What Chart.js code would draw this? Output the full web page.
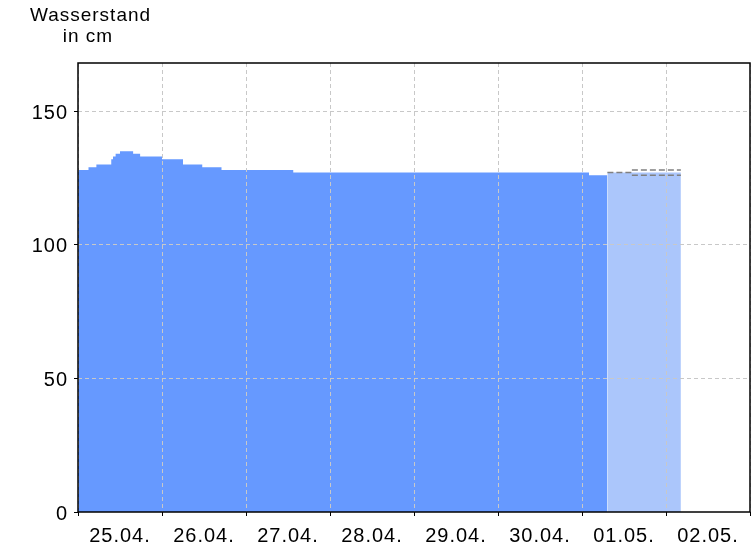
<!DOCTYPE html>
<html>
<head>
<meta charset="utf-8">
<script src="https://cdn.jsdelivr.net/npm/chart.js@4"></script>
<style>
	html, body { margin: 0; padding: 0; background: #fff; }
	#pegel-chart { display: block; }
</style>
</head>
<body>
<canvas id="pegel-chart" width="756" height="546"></canvas>
<script>
// Stunden seit 25.04. 00:00 und Wasserstand in cm (Messwerte, Stufenverlauf)
var messStunden = [0, 3, 5.25, 9.5, 10, 10.75, 12, 15.75, 17.75, 24, 30, 35.5, 41, 61.5, 146, 151.25];
var messWerte = [128, 129, 130, 132, 133, 134, 135, 134, 133, 132, 130, 129, 128, 127, 126, 126];

// Vorhersage
var vorhersageStunden = [151.25, 172.25];
var vorhersageWerte = [127, 127];
var mitteStunden = [151.25, 158.25];
var mitteWerte = [127, 127];
var grenzeStunden = [158.25, 172.25];
var grenzeOben = [128, 128];
var grenzeUnten = [126, 126];

// Achsen
var tagGrenzen = [0, 24, 48, 72, 96, 120, 144, 168, 192];
var tage = ["25.04.", "26.04.", "27.04.", "28.04.", "29.04.", "30.04.", "01.05.", "02.05."];
var yTicks = [0, 50, 100, 150];
var yMax = 168;

var COLOR_MESS = "#6699ff";
var COLOR_VORHERSAGE = "#abc6fb";
var COLOR_GRENZE = "#808080";
var COLOR_GRID = "#c8c8c8";
var FONT = '"Liberation Sans", Arial, sans-serif';

function punkte(xs, ys) {
	var arr = [];
	for (var i = 0; i < xs.length; i++) {
		arr.push({ x: xs[i], y: ys[i] });
	}
	return arr;
}

var rahmenPlugin = {
	id: "rahmen",
	beforeDraw: function (chart) {
		chart.ctx.letterSpacing = "1px";
	},
	afterDraw: function (chart) {
		var ctx = chart.ctx;
		var a = chart.chartArea;
		ctx.save();
		ctx.strokeStyle = "#000";
		ctx.lineWidth = 1.5;
		ctx.setLineDash([]);
		ctx.strokeRect(a.left, a.top, a.right - a.left, a.bottom - a.top);

		// Achsentitel oben links
		ctx.fillStyle = "#000";
		ctx.font = "19px " + FONT;
		ctx.letterSpacing = "1px";
		ctx.textAlign = "center";
		ctx.textBaseline = "alphabetic";
		ctx.fillText("Wasserstand", 90.5, 21);
		ctx.fillText("in cm", 88, 42);
		ctx.restore();
	}
};

var handlePegelChart = function () {
	var ctx = document.getElementById("pegel-chart").getContext("2d");

	var datany = {
		datasets: [
			{
				label: "Messwerte",
				data: punkte(messStunden, messWerte),
				stepped: true,
				fill: "origin",
				backgroundColor: COLOR_MESS,
				borderWidth: 0,
				pointRadius: 0,
				order: 2,
			},
			{
				label: "Vorhersage",
				data: punkte(vorhersageStunden, vorhersageWerte),
				fill: "origin",
				backgroundColor: COLOR_VORHERSAGE,
				borderWidth: 0,
				pointRadius: 0,
				order: 2,
			},
			{
				label: "Vorhersage Mitte",
				data: punkte(mitteStunden, mitteWerte),
				fill: false,
				borderColor: COLOR_GRENZE,
				borderWidth: 1.5,
				borderDash: [6, 3],
				pointRadius: 0,
				order: 1,
			},
			{
				label: "obere Grenze",
				data: punkte(grenzeStunden, grenzeOben),
				fill: false,
				borderColor: COLOR_GRENZE,
				borderWidth: 1.5,
				borderDash: [6, 3],
				pointRadius: 0,
				order: 1,
			},
			{
				label: "untere Grenze",
				data: punkte(grenzeStunden, grenzeUnten),
				fill: false,
				borderColor: COLOR_GRENZE,
				borderWidth: 1.5,
				borderDash: [6, 3],
				pointRadius: 0,
				order: 1,
			},
		],
	};

	var myChart = new Chart(ctx, {
		type: "line",
		data: datany,
		plugins: [rahmenPlugin],
		options: {
			responsive: false,
			animation: false,
			layout: {
				padding: { top: 63, right: 6, left: 0, bottom: 0 },
			},
			plugins: {
				legend: { display: false },
				tooltip: { enabled: false },
			},
			scales: {
				x: {
					type: "linear",
					min: tagGrenzen[0],
					max: tagGrenzen[tagGrenzen.length - 1],
					afterBuildTicks: function (scale) {
						scale.ticks = tagGrenzen.map(function (v) { return { value: v }; });
					},
					afterFit: function (scale) {
						scale.height = 34;
						scale.paddingLeft = 0;
						scale.paddingRight = 0;
					},
					grid: {
						z: 1,
						color: COLOR_GRID,
						tickColor: "#000",
						tickBorderDash: [],
						tickLength: 4,
					},
					border: { display: false, dash: [4, 3] },
					ticks: {
						autoSkip: false,
						maxRotation: 0,
						padding: 8,
						labelOffset: 42,
						color: "#000",
						font: { family: FONT, size: 20 },
						callback: function (value, index) {
							return tage[index] || "";
						},
					},
				},
				y: {
					min: 0,
					max: yMax,
					afterBuildTicks: function (scale) {
						scale.ticks = yTicks.map(function (v) { return { value: v }; });
					},
					afterFit: function (scale) {
						scale.width = 78;
						scale.paddingTop = 0;
						scale.paddingBottom = 0;
					},
					grid: {
						z: 1,
						color: function (c) { return c.tick && c.tick.value === 0 ? "rgba(0,0,0,0)" : COLOR_GRID; },
						tickColor: "#000",
						tickBorderDash: [],
						tickLength: 4,
					},
					border: { display: false, dash: [4, 3] },
					ticks: {
						padding: 6,
						labelOffset: 2,
						color: "#000",
						font: { family: FONT, size: 20 },
					},
				},
			},
		},
	});

	return myChart;
};

handlePegelChart();
</script>
</body>
</html>
